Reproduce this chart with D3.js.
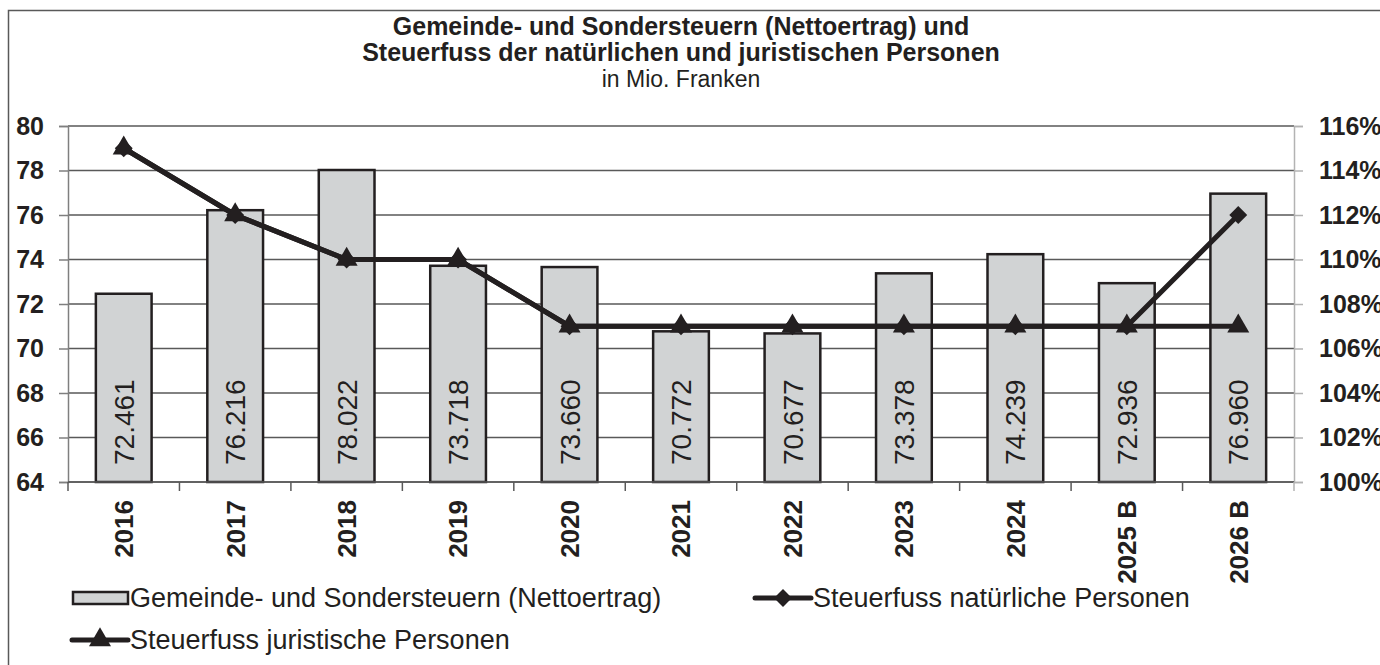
<!DOCTYPE html>
<html>
<head>
<meta charset="utf-8">
<script src="https://cdn.jsdelivr.net/npm/d3@7"></script>
<style>
	body { margin: 0; background: #ffffff; }
	#canvas { width: 1380px; height: 665px; overflow: hidden; }
	text { font-family: "Liberation Sans", Arial, sans-serif; fill: #231f20; }
</style>
</head>
<body>
<div id="canvas"></div>
<script>
var years = ["2016", "2017", "2018", "2019", "2020", "2021", "2022", "2023", "2024", "2025 B", "2026 B"];
var steuern = [72.461, 76.216, 78.022, 73.718, 73.660, 70.772, 70.677, 73.378, 74.239, 72.936, 76.960];
var natuerlich = [115, 112, 110, 110, 107, 107, 107, 107, 107, 107, 112];
var juristisch = [115, 112, 110, 110, 107, 107, 107, 107, 107, 107, 107];
var leftTicks = [64, 66, 68, 70, 72, 74, 76, 78, 80];
var rightTicks = [100, 102, 104, 106, 108, 110, 112, 114, 116];
var titleLines = ["Gemeinde- und Sondersteuern (Nettoertrag) und", "Steuerfuss der natürlichen und juristischen Personen"];
var subTitle = "in Mio. Franken";
var legendLabels = ["Gemeinde- und Sondersteuern (Nettoertrag)", "Steuerfuss natürliche Personen", "Steuerfuss juristische Personen"];

drawVis();

function drawVis(){
	var w = 1380, h = 665;
	var left = 68, right = 1294, top = 126, bottom = 482;
	var ink = "#231f20";

	var svg = d3.select("#canvas")
		.append("svg")
		.attr("width", w)
		.attr("height", h);

	// outer frame (runs past the right and bottom edge)
	svg.append("rect")
		.attr("x", 8.5)
		.attr("y", 10.5)
		.attr("width", 1400)
		.attr("height", 700)
		.attr("fill", "none")
		.attr("stroke", "#595959")
		.attr("stroke-width", 1.5);

	var x = d3.scaleBand()
		.domain(years)
		.range([left, right])
		.paddingInner(0.5)
		.paddingOuter(0.25);

	var band = d3.scaleBand()
		.domain(years)
		.range([left, right]);

	var yLeft = d3.scaleLinear()
		.domain([64, 80])
		.range([bottom, top]);

	var yRight = d3.scaleLinear()
		.domain([100, 116])
		.range([bottom, top]);

	// title
	var title = svg.append("text")
		.attr("text-anchor", "middle")
		.attr("font-weight", "bold")
		.attr("font-size", 25);
	titleLines.forEach(function(t, i){
		title.append("tspan")
			.attr("x", (left + right) / 2)
			.attr("y", 35 + i * 26)
			.text(t);
	});
	svg.append("text")
		.attr("x", (left + right) / 2)
		.attr("y", 87)
		.attr("text-anchor", "middle")
		.attr("font-size", 23)
		.text(subTitle);

	// gridlines
	svg.append("g")
		.selectAll("line")
		.data(leftTicks)
		.enter()
		.append("line")
		.attr("x1", left)
		.attr("x2", right)
		.attr("y1", function(d){ return yLeft(d); })
		.attr("y2", function(d){ return yLeft(d); })
		.attr("stroke", "#595959")
		.attr("stroke-width", 1.5);

	// left axis
	var axisL = svg.append("g")
		.attr("transform", "translate(" + left + ",0)")
		.call(d3.axisLeft(yLeft).tickValues(leftTicks).tickSize(9).tickPadding(15));
	axisL.select(".domain").attr("stroke", "#7f7f7f").attr("stroke-width", 1.5);
	axisL.selectAll(".tick line").attr("stroke", "#7f7f7f").attr("stroke-width", 1.5);
	axisL.selectAll(".tick text")
		.attr("font-family", "Liberation Sans, Arial, sans-serif")
		.attr("font-size", 25)
		.attr("font-weight", "bold")
		.attr("fill", ink);

	// right axis (labels run off the edge, as in the source)
	var axisR = svg.append("g")
		.attr("transform", "translate(" + right + ",0)")
		.call(d3.axisRight(yRight).tickValues(rightTicks).tickSize(9).tickPadding(16)
			.tickFormat(function(d){ return d + "%"; }));
	axisR.select(".domain").attr("stroke", "#b3b3b3").attr("stroke-width", 1.5);
	axisR.selectAll(".tick line").attr("stroke", "#b3b3b3").attr("stroke-width", 1.5);
	axisR.selectAll(".tick text")
		.attr("font-family", "Liberation Sans, Arial, sans-serif")
		.attr("font-size", 25)
		.attr("font-weight", "bold")
		.attr("fill", ink);

	// bars
	svg.append("g")
		.selectAll("rect")
		.data(steuern)
		.enter()
		.append("rect")
		.attr("x", function(d, i){ return x(years[i]); })
		.attr("y", function(d){ return yLeft(d); })
		.attr("width", x.bandwidth())
		.attr("height", function(d){ return yLeft(64) - yLeft(d); })
		.attr("fill", "#d1d3d4")
		.attr("stroke", ink)
		.attr("stroke-width", 2.5);

	// bottom axis with category ticks between bands
	var axisB = svg.append("g")
		.attr("transform", "translate(0," + bottom + ")");
	axisB.append("line")
		.attr("x1", left)
		.attr("x2", right)
		.attr("stroke", "#595959")
		.attr("stroke-width", 1.5);
	axisB.selectAll(".cat")
		.data(years.concat(["end"]))
		.enter()
		.append("line")
		.attr("x1", function(d, i){ return left + i * band.bandwidth(); })
		.attr("x2", function(d, i){ return left + i * band.bandwidth(); })
		.attr("y1", 0)
		.attr("y2", 9)
		.attr("stroke", function(d, i){ return i == years.length ? "#b3b3b3" : "#595959"; })
		.attr("stroke-width", 1.5);

	// value labels inside bars
	svg.append("g")
		.selectAll("text")
		.data(steuern)
		.enter()
		.append("text")
		.attr("transform", function(d, i){
			return "translate(" + (x(years[i]) + x.bandwidth() / 2) + ",465) rotate(-90)";
		})
		.attr("dy", "0.36em")
		.attr("font-size", 28)
		.text(function(d){ return d3.format(".3f")(d); });

	// category labels
	svg.append("g")
		.selectAll("text")
		.data(years)
		.enter()
		.append("text")
		.attr("transform", function(d){
			return "translate(" + (band(d) + band.bandwidth() / 2) + ",500) rotate(-90)";
		})
		.attr("dy", "0.36em")
		.attr("text-anchor", "end")
		.attr("font-size", 26)
		.attr("font-weight", "bold")
		.text(function(d){ return d; });

	// lines
	var line = d3.line()
		.x(function(d, i){ return band(years[i]) + band.bandwidth() / 2; })
		.y(function(d){ return yRight(d); });

	var diamond = d3.symbol().type(d3.symbolSquare).size(160);
	var triangle = d3.symbol().type(d3.symbolTriangle).size(210);

	[natuerlich, juristisch].forEach(function(series, k){
		svg.append("path")
			.datum(series)
			.attr("d", line)
			.attr("fill", "none")
			.attr("stroke", ink)
			.attr("stroke-width", 5);
		svg.append("g")
			.selectAll("path")
			.data(series)
			.enter()
			.append("path")
			.attr("transform", function(d, i){
				var px = band(years[i]) + band.bandwidth() / 2;
				return "translate(" + px + "," + yRight(d) + ")" + (k == 0 ? " rotate(45)" : "");
			})
			.attr("d", k == 0 ? diamond : triangle)
			.attr("fill", ink);
	});

	// legend
	var legend = svg.append("g");
	legend.append("rect")
		.attr("x", 73)
		.attr("y", 592)
		.attr("width", 55)
		.attr("height", 12)
		.attr("fill", "#d1d3d4")
		.attr("stroke", ink)
		.attr("stroke-width", 2.5);
	legend.append("text")
		.attr("x", 130)
		.attr("y", 607)
		.attr("font-size", 27)
		.text(legendLabels[0]);

	var legendLines = [
		{x: 755, y: 598, label: legendLabels[1], sym: diamond, rot: " rotate(45)"},
		{x: 72, y: 640, label: legendLabels[2], sym: triangle, rot: ""}
	];
	legendLines.forEach(function(d){
		legend.append("line")
			.attr("x1", d.x)
			.attr("x2", d.x + 56)
			.attr("y1", d.y)
			.attr("y2", d.y)
			.attr("stroke", ink)
			.attr("stroke-width", 5)
			.attr("stroke-linecap", "round");
		legend.append("path")
			.attr("transform", "translate(" + (d.x + 28) + "," + d.y + ")" + d.rot)
			.attr("d", d.sym)
			.attr("fill", ink);
		legend.append("text")
			.attr("x", d.x + 58)
			.attr("y", d.y + 9)
			.attr("font-size", 27)
			.text(d.label);
	});
}
</script>
</body>
</html>
